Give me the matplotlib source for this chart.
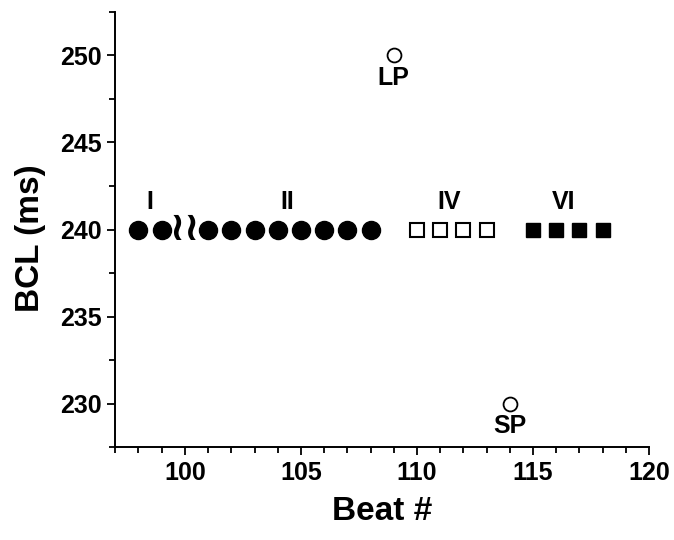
import matplotlib.pyplot as plt
from matplotlib.ticker import MultipleLocator

plt.rcParams['font.family'] = ['Liberation Sans', 'DejaVu Sans']
plt.rcParams['font.weight'] = 'bold'

# stimulation phases, basic cycle length per beat
beats_i = [98, 99]
bcl_i = [240, 240]
beats_ii = [101, 102, 103, 104, 105, 106, 107, 108]
bcl_ii = [240, 240, 240, 240, 240, 240, 240, 240]
beats_iv = [110, 111, 112, 113]
bcl_iv = [240, 240, 240, 240]
beats_vi = [115, 116, 117, 118]
bcl_vi = [240, 240, 240, 240]
beat_lp, bcl_lp = 109, 250
beat_sp, bcl_sp = 114, 230

phase_labels = ['I', 'II', 'IV', 'VI']
phase_x = [98.5, 104.4, 111.4, 116.3]
phase_y = 241.6

fig = plt.figure(figsize=(6.74, 5.4), dpi=100)
ax = fig.add_axes([0.171, 0.172, 0.792, 0.806])

ax.plot(beats_i + beats_ii, bcl_i + bcl_ii, 'o', color='black', ms=13, ls='none')
ax.plot(beats_iv, bcl_iv, 's', mfc='white', mec='black', mew=1.5, ms=9.5, ls='none')
ax.plot(beats_vi, bcl_vi, 's', color='black', ms=10, ls='none')
ax.plot([beat_lp, beat_sp], [bcl_lp, bcl_sp], 'o', mfc='white', mec='black', mew=1.3, ms=10, ls='none')

# axis break between beat 99 and 101
ax.text(100, 240, '≀≀', fontsize=29, ha='center', va='center', family='DejaVu Sans',
        fontweight='bold')

for lab, x in zip(phase_labels, phase_x):
    ax.text(x, phase_y, lab, fontsize=18, ha='center', va='center')
ax.text(beat_lp, bcl_lp - 1.3, 'LP', fontsize=18, ha='center', va='center')
ax.text(beat_sp, bcl_sp - 1.3, 'SP', fontsize=18, ha='center', va='center')

ax.set_xlim(97, 120)
ax.set_ylim(227.5, 252.5)
ax.xaxis.set_major_locator(MultipleLocator(5))
ax.xaxis.set_minor_locator(MultipleLocator(1))
ax.yaxis.set_major_locator(MultipleLocator(5))
ax.yaxis.set_minor_locator(MultipleLocator(2.5))
ax.tick_params(which='major', direction='out', length=6, width=1.3, labelsize=18, pad=4)
ax.tick_params(which='minor', direction='out', length=4, width=1.3)
for s in ['top', 'right']:
    ax.spines[s].set_visible(False)
for s in ['left', 'bottom']:
    ax.spines[s].set_linewidth(1.4)

ax.set_xlabel('Beat #', fontsize=24, fontweight='bold', labelpad=8)
ax.set_ylabel('BCL (ms)', fontsize=24, fontweight='bold', va='center')
ax.yaxis.set_label_coords(-0.158, 0.48)

fig.savefig('out.png', dpi=100)
